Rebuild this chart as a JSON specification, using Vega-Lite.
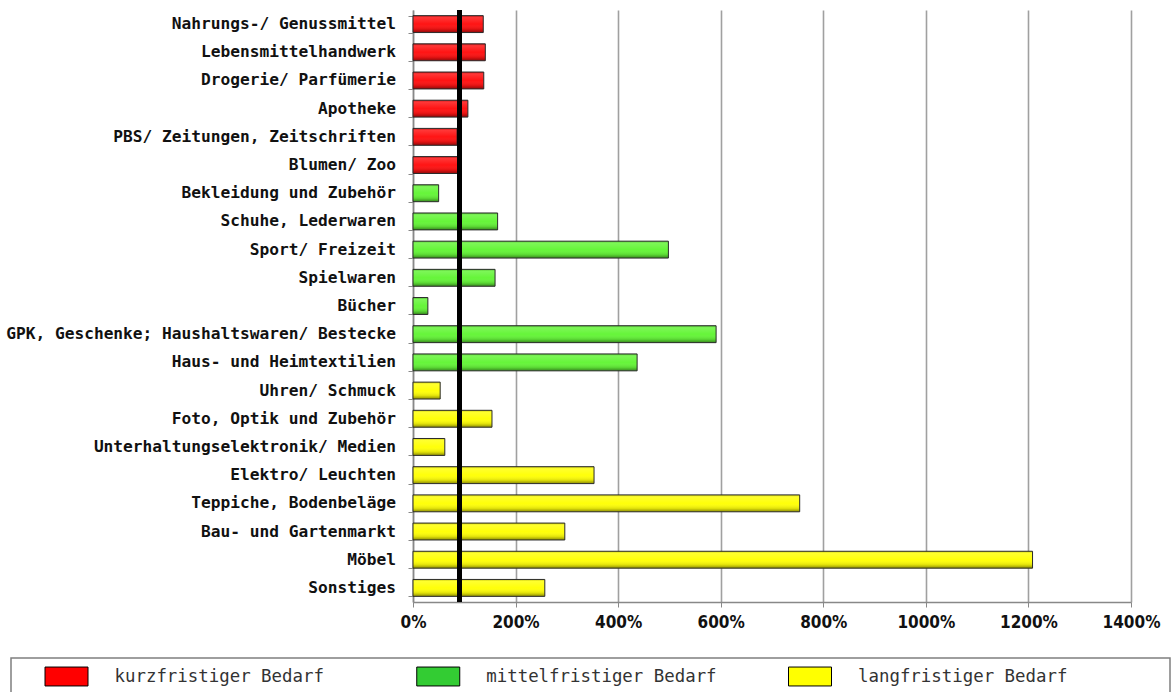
{
  "$schema": "https://vega.github.io/schema/vega-lite/v6.json",
  "background": "white",
  "padding": {"left": 6, "top": 8, "right": 5, "bottom": 0},
  "spacing": 27,
  "config": {
    "view": {"stroke": null},
    "font": "DejaVu Sans Condensed"
  },
  "vconcat": [
    {
      "data": {
        "values": [
          {"kategorie": "Nahrungs-/ Genussmittel", "gruppe": "kurz", "wert": 137},
          {"kategorie": "Lebensmittelhandwerk", "gruppe": "kurz", "wert": 141},
          {"kategorie": "Drogerie/ Parfümerie", "gruppe": "kurz", "wert": 138},
          {"kategorie": "Apotheke", "gruppe": "kurz", "wert": 107},
          {"kategorie": "PBS/ Zeitungen, Zeitschriften", "gruppe": "kurz", "wert": 86},
          {"kategorie": "Blumen/ Zoo", "gruppe": "kurz", "wert": 88},
          {"kategorie": "Bekleidung und Zubehör", "gruppe": "mittel", "wert": 50},
          {"kategorie": "Schuhe, Lederwaren", "gruppe": "mittel", "wert": 165},
          {"kategorie": "Sport/ Freizeit", "gruppe": "mittel", "wert": 498},
          {"kategorie": "Spielwaren", "gruppe": "mittel", "wert": 160},
          {"kategorie": "Bücher", "gruppe": "mittel", "wert": 29},
          {"kategorie": "GPK, Geschenke; Haushaltswaren/ Bestecke", "gruppe": "mittel", "wert": 591},
          {"kategorie": "Haus- und Heimtextilien", "gruppe": "mittel", "wert": 437},
          {"kategorie": "Uhren/ Schmuck", "gruppe": "lang", "wert": 53},
          {"kategorie": "Foto, Optik und Zubehör", "gruppe": "lang", "wert": 154},
          {"kategorie": "Unterhaltungselektronik/ Medien", "gruppe": "lang", "wert": 62},
          {"kategorie": "Elektro/ Leuchten", "gruppe": "lang", "wert": 353},
          {"kategorie": "Teppiche, Bodenbeläge", "gruppe": "lang", "wert": 754},
          {"kategorie": "Bau- und Gartenmarkt", "gruppe": "lang", "wert": 296},
          {"kategorie": "Möbel", "gruppe": "lang", "wert": 1208},
          {"kategorie": "Sonstiges", "gruppe": "lang", "wert": 257}
        ]
      },
      "bounds": "flush",
      "spacing": 17,
      "resolve": {"scale": {"x": "independent", "y": "shared"}},
      "hconcat": [
        {
          "width": 385,
          "height": 592,
          "mark": {
            "type": "text",
            "align": "right",
            "baseline": "middle",
            "font": "DejaVu Sans Mono",
            "fontSize": 16.2,
            "fontWeight": "bold",
            "color": "#111111"
          },
          "encoding": {
            "y": {
              "field": "kategorie",
              "type": "nominal",
              "sort": null,
              "axis": null,
              "scale": {"paddingInner": 0.4, "paddingOuter": 0.2}
            },
            "x": {
              "datum": 1,
              "type": "quantitative",
              "scale": {"domain": [0, 1], "nice": false, "zero": false},
              "axis": null
            },
            "text": {"field": "kategorie"}
          }
        },
        {
          "width": 718,
          "height": 592,
          "layer": [
            {
              "mark": {"type": "bar"},
              "encoding": {
                "y": {
                  "field": "kategorie",
                  "type": "nominal",
                  "sort": null,
                  "title": null,
                  "scale": {"paddingInner": 0.4, "paddingOuter": 0.2},
                  "axis": {
                    "labels": false,
                    "tickBand": "extent",
                    "tickSize": 5,
                    "tickColor": "#888888",
                    "domainColor": "#888888",
                    "domainWidth": 1.5,
                    "minExtent": 0,
                    "grid": false
                  }
                },
                "x": {
                  "field": "wert",
                  "type": "quantitative",
                  "title": null,
                  "scale": {"domain": [0, 1400], "nice": false},
                  "axis": {
                    "values": [0, 200, 400, 600, 800, 1000, 1200, 1400],
                    "labelExpr": "datum.value + '%'",
                    "labelFlush": false,
                    "grid": true,
                    "gridColor": "#A0A0A0",
                    "gridWidth": 1.6,
                    "domainColor": "#888888",
                    "domainWidth": 1.5,
                    "tickColor": "#888888",
                    "tickSize": 5,
                    "labelPadding": 7,
                    "labelFontSize": 17,
                    "labelFontWeight": "bold",
                    "labelColor": "#111111",
                    "labelFont": "DejaVu Sans Condensed"
                  }
                },
                "color": {
                  "field": "gruppe",
                  "type": "nominal",
                  "scale": {"domain": ["kurz", "mittel", "lang"], "range": ["#FF1414", "#66F53A", "#FFFF0A"]},
                  "legend": null
                }
              }
            },
            {
              "mark": {
                "type": "bar",
                "stroke": "#2a2a2a",
                "strokeWidth": 1,
                "fill": {
                  "gradient": "linear",
                  "x1": 0, "y1": 0, "x2": 0, "y2": 1,
                  "stops": [
                    {"offset": 0, "color": "rgba(0,0,0,0.25)"},
                    {"offset": 0.12, "color": "rgba(255,255,255,0.15)"},
                    {"offset": 0.5, "color": "rgba(255,255,255,0)"},
                    {"offset": 0.8, "color": "rgba(0,0,0,0.12)"},
                    {"offset": 1, "color": "rgba(0,0,0,0.45)"}
                  ]
                }
              },
              "encoding": {
                "y": {"field": "kategorie", "type": "nominal", "sort": null},
                "x": {"field": "wert", "type": "quantitative"}
              }
            },
            {
              "mark": {"type": "rule", "color": "#000000", "strokeWidth": 4},
              "encoding": {"x": {"datum": 91}}
            }
          ]
        }
      ]
    },
    {
      "width": 1159,
      "height": 37,
      "view": {"stroke": "#7f7f7f", "strokeWidth": 1.5},
      "data": {
        "values": [
          {"gruppe": "kurz", "label": "kurzfristiger Bedarf"},
          {"gruppe": "mittel", "label": "mittelfristiger Bedarf"},
          {"gruppe": "lang", "label": "langfristiger Bedarf"}
        ]
      },
      "encoding": {
        "x": {
          "field": "label",
          "type": "nominal",
          "sort": null,
          "scale": {"type": "point", "range": [55.5, 799], "padding": 0},
          "axis": null
        }
      },
      "layer": [
        {
          "mark": {
            "type": "point",
            "shape": "M-1,-0.44H1V0.44H-1Z",
            "size": 1849,
            "filled": true,
            "stroke": "#000000",
            "strokeWidth": 1,
            "opacity": 1
          },
          "encoding": {
            "fill": {
              "field": "gruppe",
              "type": "nominal",
              "scale": {"domain": ["kurz", "mittel", "lang"], "range": ["#FF0000", "#33CC33", "#FFFF00"]},
              "legend": null
            }
          }
        },
        {
          "mark": {
            "type": "text",
            "align": "left",
            "baseline": "middle",
            "dx": 48,
            "fontSize": 17.4,
            "color": "#333333",
            "font": "DejaVu Sans Mono"
          },
          "encoding": {"text": {"field": "label"}}
        }
      ]
    }
  ]
}
